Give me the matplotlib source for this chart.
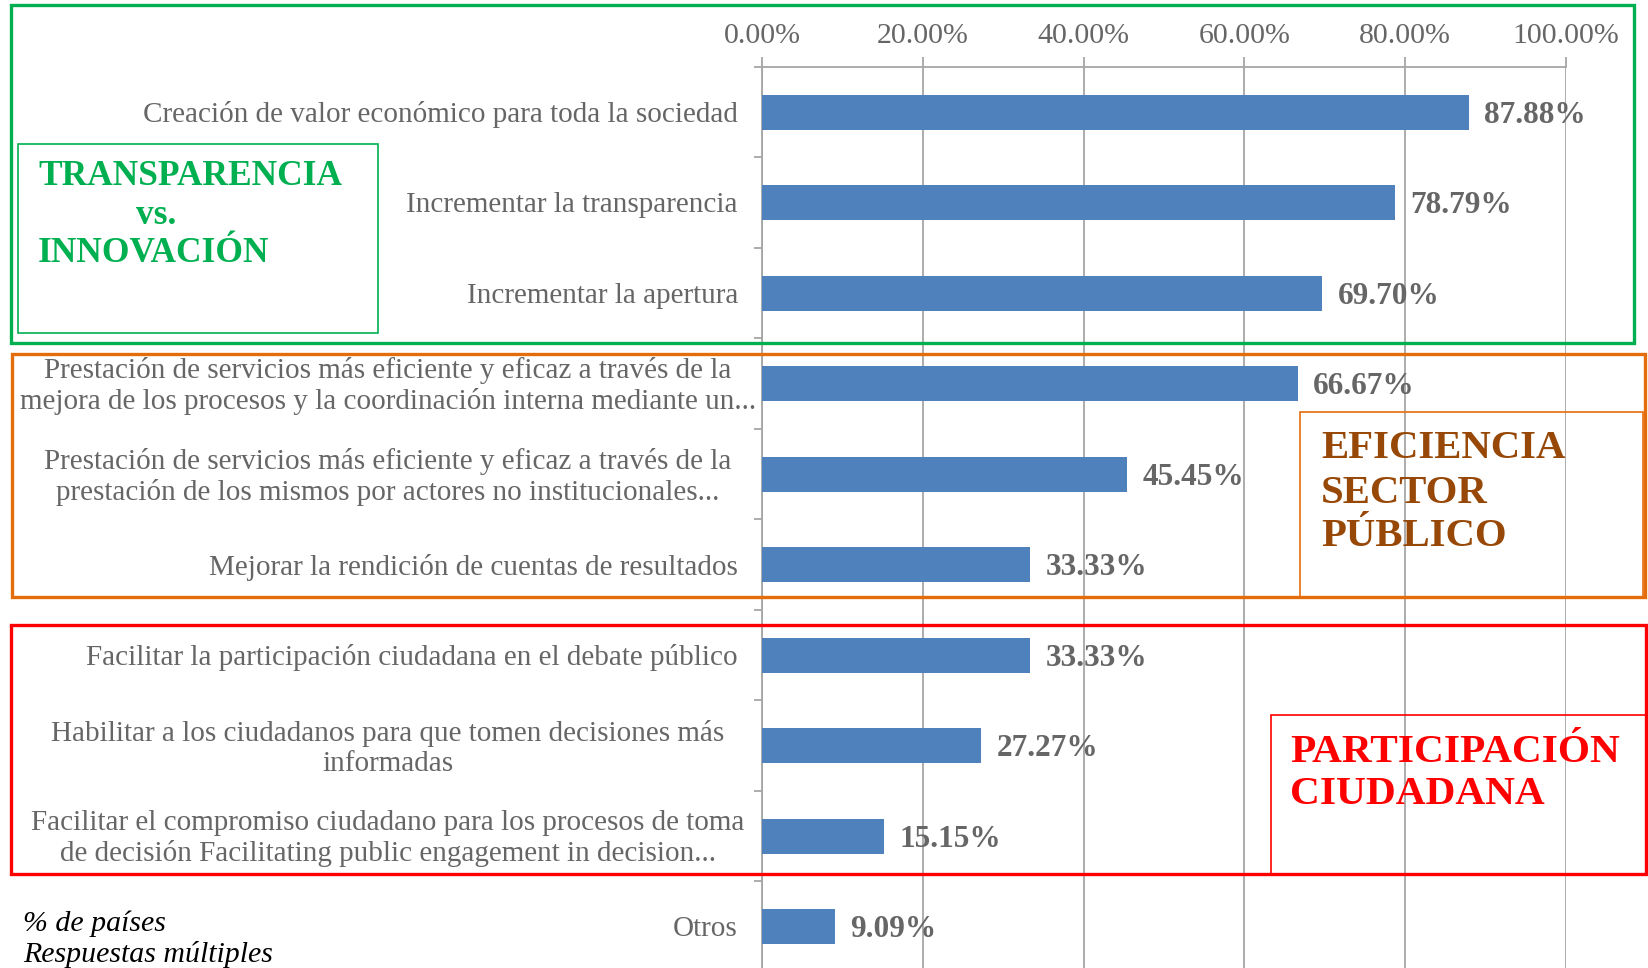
import numpy as np
import matplotlib
matplotlib.use("Agg")
import matplotlib.pyplot as plt
from matplotlib.patches import Rectangle
from matplotlib.ticker import FuncFormatter, MultipleLocator
from matplotlib.transforms import blended_transform_factory, ScaledTranslation

plt.rcParams['font.family'] = ['Liberation Serif', 'DejaVu Serif']

categories = [
    "Creación de valor económico para toda la sociedad",
    "Incrementar la transparencia",
    "Incrementar la apertura",
    "Prestación de servicios más eficiente y eficaz a través de la\nmejora de los procesos y la coordinación interna mediante un...",
    "Prestación de servicios más eficiente y eficaz a través de la\nprestación de los mismos por actores no institucionales...",
    "Mejorar la rendición de cuentas de resultados",
    "Facilitar la participación ciudadana en el debate público",
    "Habilitar a los ciudadanos para que tomen decisiones más\ninformadas",
    "Facilitar el compromiso ciudadano para los procesos de toma\nde decisión Facilitating public engagement in decision...",
    "Otros",
]
values = [87.88, 78.79, 69.70, 66.67, 45.45, 33.33, 33.33, 27.27, 15.15, 9.09]

W, H = 1648, 968
fig = plt.figure(figsize=(W / 100, H / 100), dpi=100)
ax = fig.add_axes([762 / W, (H - 972) / H, (1566 - 762) / W, 905 / H])

y = np.arange(len(categories))
ax.barh(y, values, height=0.39, color="#4F81BD", zorder=3)
ax.set_ylim(len(categories) - 0.5, -0.5)
ax.set_xlim(0, 100)

grey = "#a6a6a6"
txt = "#666666"
ax.xaxis.tick_top()
ax.xaxis.set_major_locator(MultipleLocator(20))
ax.xaxis.set_major_formatter(FuncFormatter(lambda v, p: f"{v:.2f}%"))
ax.grid(axis="x", color=grey, lw=1.3, zorder=0)
ax.tick_params(axis="x", length=7, width=1.3, color=grey, pad=6, labelsize=21.5, labelcolor=txt)

# category labels: single lines right aligned, wrapped ones centred in the label area
ax.set_yticks(y)
ax.set_yticklabels([])
ax.set_yticks(np.arange(len(categories) + 1) - 0.5, minor=True)
ax.tick_params(axis="y", which="major", length=0)
ax.tick_params(axis="y", which="minor", length=6, width=1.3, color=grey)
trans = blended_transform_factory(fig.transFigure, ax.transData) + \
    ScaledTranslation(0, -0.025, fig.dpi_scale_trans)
for yi, cat in zip(y, categories):
    if "\n" in cat:
        ax.text(388 / W, yi, cat, transform=trans, ha="center", va="center",
                multialignment="center", linespacing=1.2, fontsize=21, color=txt)
    else:
        ax.text(738 / W, yi, cat, transform=trans, ha="right", va="center",
                fontsize=21, color=txt)

for s in ["right", "bottom"]:
    ax.spines[s].set_visible(False)
for s in ["top", "left"]:
    ax.spines[s].set_color(grey)
    ax.spines[s].set_linewidth(1.3)

for yi, v in zip(y, values):
    ax.annotate(f"{v:.2f}%", (v, yi), xytext=(11, -2), textcoords="offset points",
                va="center", ha="left", fontsize=22.5, fontweight="bold", color=txt)


def box(x0, y0, x1, y1, color, lw):
    fig.patches.append(Rectangle((x0 / W, 1 - y1 / H), (x1 - x0) / W, (y1 - y0) / H,
                                 transform=fig.transFigure, fill=False,
                                 edgecolor=color, lw=lw, zorder=10))


def label(x, yy, s, color, size, ha="left"):
    fig.text(x / W, 1 - yy / H, s, color=color, fontsize=size, fontweight="bold",
             ha=ha, va="center")


green, orange, brown, red = "#00B050", "#E46C0A", "#974806", "#FF0000"

box(11, 5, 1634, 343, green, 2.4)
box(18, 144, 378, 333, green, 1.2)
label(38, 176, "TRANSPARENCIA", green, 25.5)
label(156, 215, "vs.", green, 25.5, ha="center")
label(38, 253, "INNOVACIÓN", green, 25.5)

box(12, 354, 1645, 597, orange, 2.4)
box(1300, 412, 1643, 597, orange, 1.2)
label(1321, 449, "EFICIENCIA", brown, 29.3)
label(1321, 493, "SECTOR", brown, 29.3)
label(1321, 537, "PÚBLICO", brown, 29.3)

box(11, 625, 1646, 874, red, 2.4)
box(1271, 715, 1646, 874, red, 1.2)
label(1290, 752, "PARTICIPACIÓN", red, 29.8)
label(1290, 795, "CIUDADANA", red, 29.8)

fig.text(23 / W, 1 - 924 / H, "% de países", fontsize=21.5, style="italic", color="black", va="center")
fig.text(23 / W, 1 - 955 / H, "Respuestas múltiples", fontsize=21.5, style="italic", color="black", va="center")

fig.savefig("out.png", dpi=100)
